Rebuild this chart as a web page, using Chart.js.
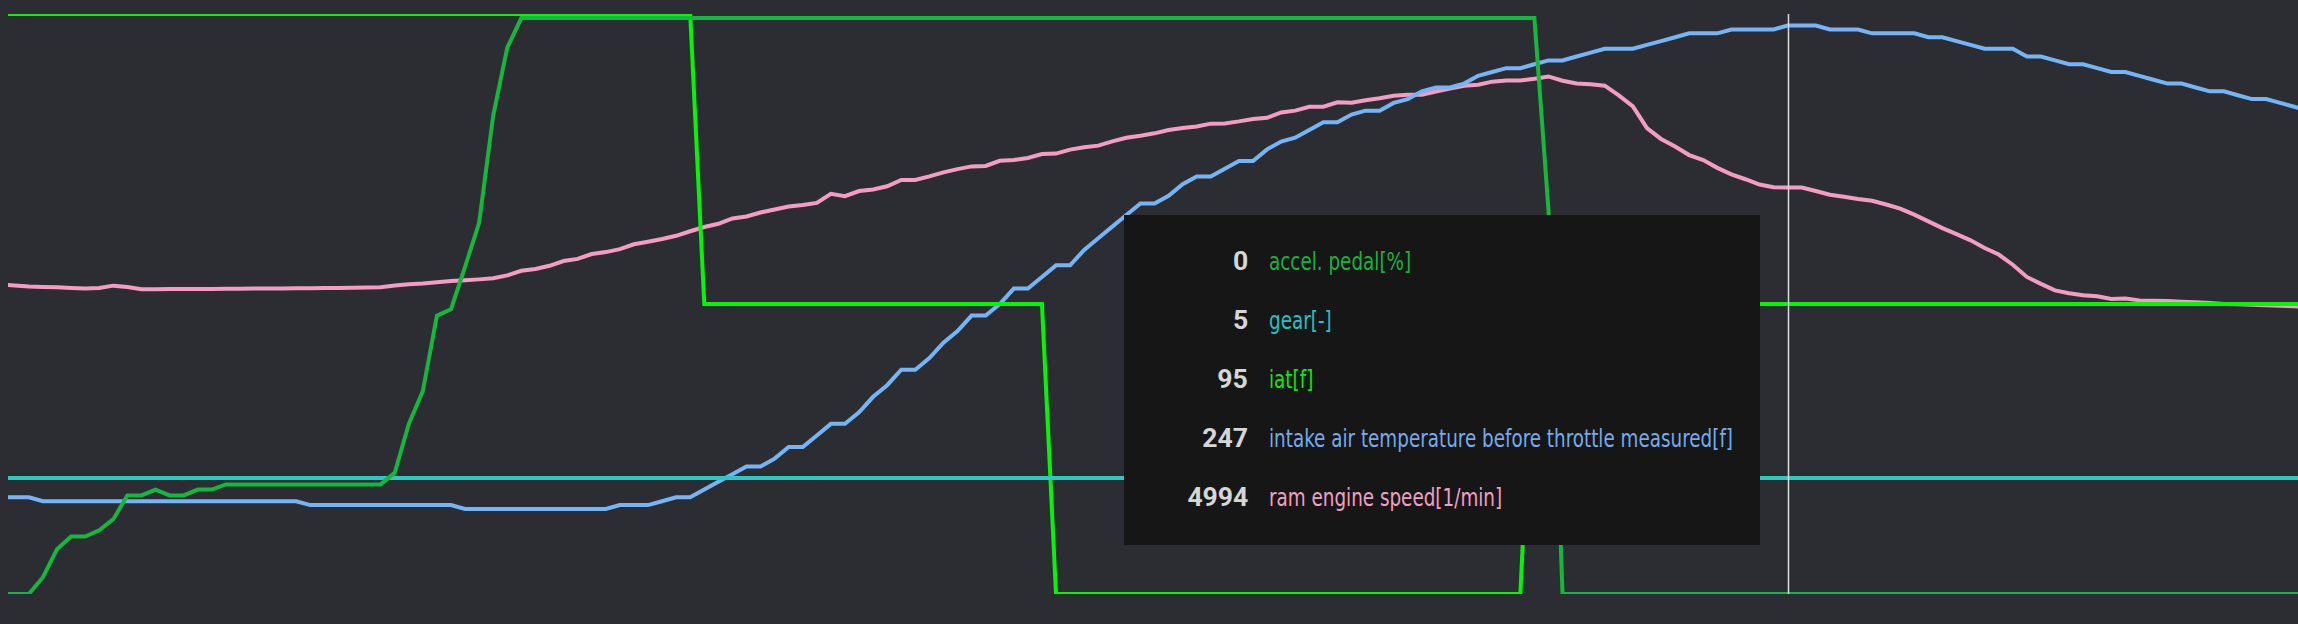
<!DOCTYPE html>
<html>
<head>
<meta charset="utf-8">
<title>Log chart</title>
<script src="https://cdn.jsdelivr.net/npm/chart.js@4.4.1/dist/chart.umd.min.js"></script>
<style>
  html, body { margin: 0; padding: 0; background: #2c2d33; overflow: hidden; }
  #wrap { position: relative; width: 2298px; height: 624px; background: #2c2d33; }
  #chart { display: block; }
  #tip { position: absolute; left: 1124px; top: 215px; width: 636px; height: 330px; background: #161616; }
  .row { position: absolute; left: 0; width: 636px; height: 40px; line-height: 40px; white-space: nowrap; }
  .val { position: absolute; right: 512px; top: 0; font-family: Roboto, "Open Sans", sans-serif; font-weight: 700; font-size: 25px; color: #d6d6d6; transform-origin: right center; }
  .lab { position: absolute; left: 145px; top: 0; font-family: "Liberation Sans Narrow", "DejaVu Sans Condensed", Roboto, sans-serif; font-size: 24px; transform-origin: left center; }
</style>
</head>
<body>
<div id="wrap">
  <canvas id="chart" width="2298" height="624"></canvas>
  <div id="tip"></div>
</div>
<script>
// ---- data (one value per logged sample) ----
const seriesNames = ['accel. pedal[%]', 'gear[-]', 'iat[f]', 'intake air temperature before throttle measured[f]', 'ram engine speed[1/min]'];

const accelPedal = [
  0,0,0,2.9,7.7,9.9,9.9,11.0,12.9,17.0,
  17.0,18.0,17.0,17.0,18.0,18.0,18.9,18.9,18.9,18.9,
  18.9,18.9,18.9,18.9,18.9,18.9,18.9,18.9,20.9,29.3,
  35.0,48.0,49.1,56.4,64.0,82.5,94.2,99.3,99.3,99.3,
  99.3,99.3,99.3,99.3,99.3,99.3,99.3,99.3,99.3,99.3,
  99.3,99.3,99.3,99.3,99.3,99.3,99.3,99.3,99.3,99.3,
  99.3,99.3,99.3,99.3,99.3,99.3,99.3,99.3,99.3,99.3,
  99.3,99.3,99.3,99.3,99.3,99.3,99.3,99.3,99.3,99.3,
  99.3,99.3,99.3,99.3,99.3,99.3,99.3,99.3,99.3,99.3,
  99.3,99.3,99.3,99.3,99.3,99.3,99.3,99.3,99.3,99.3,
  99.3,99.3,99.3,99.3,99.3,99.3,99.3,99.3,99.3,99.3,
  66.2,0,0,0,0,0,0,0,0,0,
  0,0,0,0,0,0,0,0,0,0,
  0,0,0,0,0,0,0,0,0,0,
  0,0,0,0,0,0,0,0,0,0,
  0,0,0,0,0,0,0,0,0,0,
  0,0,0,0,0
];

const gear = [
  5,5,5,5,5,5,5,5,5,5, 5,5,5,5,5,5,5,5,5,5,
  5,5,5,5,5,5,5,5,5,5, 5,5,5,5,5,5,5,5,5,5,
  5,5,5,5,5,5,5,5,5,5, 5,5,5,5,5,5,5,5,5,5,
  5,5,5,5,5,5,5,5,5,5, 5,5,5,5,5,5,5,5,5,5,
  5,5,5,5,5,5,5,5,5,5, 5,5,5,5,5,5,5,5,5,5,
  5,5,5,5,5,5,5,5,5,5, 5,5,5,5,5,5,5,5,5,5,
  5,5,5,5,5,5,5,5,5,5, 5,5,5,5,5,5,5,5,5,5,
  5,5,5,5,5,5,5,5,5,5, 5,5,5,5,5,5,5,5,5,5,
  5,5,5,5,5
];

const iat = [
  96,96,96,96,96,96,96,96,96,96,
  96,96,96,96,96,96,96,96,96,96,
  96,96,96,96,96,96,96,96,96,96,
  96,96,96,96,96,96,96,96,96,96,
  96,96,96,96,96,96,96,96,96,96,
  95,95,95,95,95,95,95,95,95,95,
  95,95,95,95,95,95,95,95,95,95,
  95,95,95,95,95,94,94,94,94,94,
  94,94,94,94,94,94,94,94,94,94,
  94,94,94,94,94,94,94,94,94,94,
  94,94,94,94,94,94,94,94,94,95,
  95,95,95,95,95,95,95,95,95,95,
  95,95,95,95,95,95,95,95,95,95,
  95,95,95,95,95,95,95,95,95,95,
  95,95,95,95,95,95,95,95,95,95,
  95,95,95,95,95,95,95,95,95,95,
  95,95,95,95,95
];

const intakeAirTemp = [
  125,125,125,124,124,124,124,124,124,124,
  124,124,124,124,124,124,124,124,124,124,
  124,124,123,123,123,123,123,123,123,123,
  123,123,123,122,122,122,122,122,122,122,
  122,122,122,122,123,123,123,124,125,125,
  127,129,131,133,133,135,138,138,141,144,
  144,147,151,154,158,158,161,165,168,172,
  172,175,179,179,182,185,185,189,192,195,
  198,201,201,203,206,208,208,210,212,212,
  215,217,218,220,222,222,224,225,225,227,
  228,230,231,231,232,234,235,236,236,237,
  238,238,239,240,241,241,241,242,243,244,
  245,245,245,246,246,246,246,247,247,247,
  246,246,246,245,245,245,245,244,244,243,
  242,241,241,241,239,239,238,237,237,236,
  235,235,234,233,232,232,231,230,230,229,
  228,228,227,226,225
];

const engineSpeed = [
  3800,3790,3778,3772,3768,3760,3752,3758,3788,3770,
  3743,3745,3748,3748,3748,3748,3750,3750,3752,3752,
  3752,3755,3755,3758,3760,3762,3765,3768,3790,3805,
  3815,3830,3845,3855,3865,3878,3914,3970,3993,4032,
  4090,4117,4176,4200,4237,4296,4328,4361,4400,4456,
  4508,4548,4613,4637,4686,4723,4760,4780,4804,4916,
  4887,4950,4970,5009,5087,5087,5131,5180,5219,5253,
  5258,5321,5331,5356,5405,5410,5459,5488,5508,5561,
  5605,5630,5659,5700,5725,5743,5778,5781,5806,5836,
  5850,5915,5938,5985,5987,6040,6035,6065,6089,6120,
  6134,6134,6173,6210,6243,6255,6294,6308,6309,6329,
  6358,6305,6272,6262,6245,6125,5990,5723,5590,5498,
  5392,5330,5235,5155,5095,5030,4998,4994,4994,4950,
  4905,4880,4853,4830,4785,4735,4660,4578,4495,4420,
  4345,4250,4170,4045,3895,3810,3730,3695,3670,3657,
  3625,3630,3607,3602,3598,3590,3584,3574,3564,3558,
  3552,3546,3540,3534,3530
];

const hoverIndex = 127;
// sample numbers used as x positions
const sampleNo = accelPedal.map((_, i) => i);

// ---- styles ----
const colors = ['#14b83c', '#2cc8c8', '#06f406', '#76b4f8', '#f49cc2'];
const labelColors = ['#19b241', '#27c2c2', '#0ee80e', '#72acee', '#f2a0c2'];

const crosshair = {
  id: 'crosshair',
  afterDatasetsDraw(chart) {
    const { ctx, chartArea, scales } = chart;
    const x = Math.round(scales.x.getPixelForValue(sampleNo[hoverIndex])) + 0.5;
    ctx.save();
    ctx.strokeStyle = '#d9d9d9';
    ctx.lineWidth = 1.5;
    ctx.beginPath();
    ctx.moveTo(x, chartArea.top);
    ctx.lineTo(x, chartArea.bottom);
    ctx.stroke();
    ctx.restore();
  }
};

const seriesData = [accelPedal, gear, iat, intakeAirTemp, engineSpeed];
const axisIds = ['yAccel', 'yGear', 'yIat', 'yIntake', 'yRpm'];

new Chart(document.getElementById('chart'), {
  type: 'line',
  data: {
    labels: sampleNo,
    datasets: seriesData.map((d, k) => ({
      label: seriesNames[k],
      data: d,
      borderColor: colors[k],
      backgroundColor: colors[k],
      borderWidth: 4,
      pointRadius: 0,
      tension: 0,
      yAxisID: axisIds[k]
    }))
  },
  options: {
    responsive: false,
    animation: false,
    events: [],
    layout: { padding: { left: 8, top: 14, right: 0, bottom: 30 } },
    plugins: { legend: { display: false }, tooltip: { enabled: false } },
    scales: {
      x: { type: 'linear', display: false, min: 0.515, max: 163.27 },
      yAccel: { display: false, min: 0, max: 100 },
      yGear: { display: false, min: 0, max: 25 },
      yIat: { display: false, min: 94, max: 96 },
      yIntake: { display: false, min: 100, max: 250 },
      yRpm: { display: false, min: 0, max: 7125 }
    }
  },
  plugins: [crosshair]
});

// ---- hover readout ----
const tip = document.getElementById('tip');
const labs = [], vals = [];
seriesData.forEach((d, k) => {
  const row = document.createElement('div');
  row.className = 'row';
  row.style.top = (47 + k * 59 - 20) + 'px';
  const v = document.createElement('span');
  v.className = 'val';
  v.textContent = String(Math.round(d[hoverIndex]));
  const l = document.createElement('span');
  l.className = 'lab';
  l.style.color = labelColors[k];
  l.textContent = seriesNames[k];
  row.appendChild(v); row.appendChild(l);
  tip.appendChild(row);
  labs.push(l); vals.push(v);
});
// fit text widths to the reference proportions
const longW = labs[3].getBoundingClientRect().width;
const sl = 464 / longW;
labs.forEach(l => { l.style.transform = 'scaleX(' + sl + ')'; });
const numW = vals[4].getBoundingClientRect().width;
const sv = 61 / numW;
vals.forEach(v => { v.style.transform = 'scaleX(' + sv + ')'; });
</script>
</body>
</html>
